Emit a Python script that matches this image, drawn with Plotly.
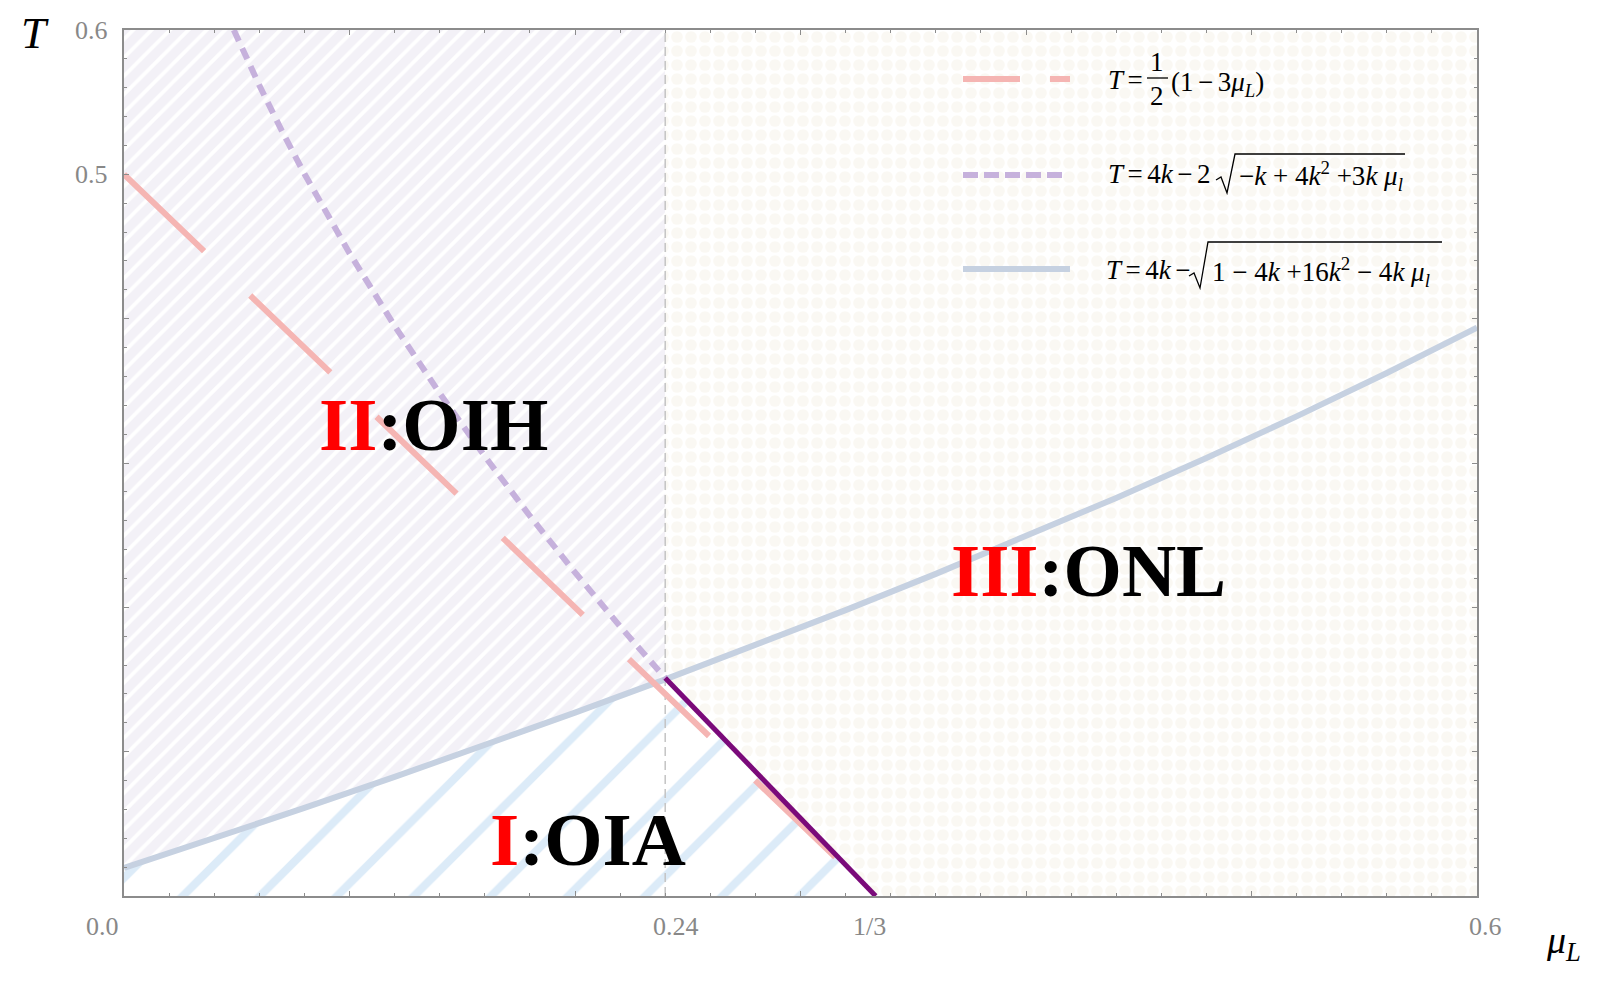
import plotly.graph_objects as go

# ---------------- data ----------------
# lower curve  T = 4k - sqrt(1-4k+16k^2-4k mu)
mu_blue = [0.00, 0.04, 0.08, 0.12, 0.16, 0.20, 0.24, 0.28, 0.32, 0.36,
           0.40, 0.44, 0.48, 0.52, 0.56, 0.60]
T_blue = [0.0194, 0.0400, 0.0610, 0.0825, 0.1045, 0.1270, 0.1501, 0.1737,
          0.1981, 0.2232, 0.2491, 0.2758, 0.3035, 0.3323, 0.3624, 0.3938]

# upper dashed curve  T = 4k - 2 sqrt(-k+4k^2+3k mu)
mu_purple = [0.0487, 0.054, 0.06, 0.07, 0.08, 0.10, 0.12, 0.14, 0.16,
             0.18, 0.20, 0.22, 0.24]
T_purple = [0.600, 0.5817, 0.5617, 0.5301, 0.5004, 0.4454, 0.3950, 0.3483,
            0.3046, 0.2633, 0.2242, 0.1868, 0.1510]

# straight line  T = (1 - 3 mu)/2
mu_red = [0.0, 1/3]
T_red = [0.5, 0.0]

# solid boundary I / III
mu_bound = [0.24, 1/3]
T_bound = [0.151, 0.0]

mu_split = 0.24          # vertical separator
x_range = [0.0, 0.6]
y_range = [0.0, 0.6]

x_tick_vals = [0.0, 0.24, 1/3, 0.6]
x_tick_text = ["0.0", "0.24", "1/3", "0.6"]
major_ticks = [0.0, 0.1, 0.2, 0.3, 0.4, 0.5, 0.6]
y_label_vals = [0.5, 0.6]
y_label_text = ["0.5", "0.6"]

# ---------------- styling ----------------
OFF = 8                      # page body margin
W, H = 1599 - 2 * OFF, 981 - 2 * OFF
L, R, T, B = 124 - OFF, 122 - OFF, 30 - OFF, 85 - OFF
# plot area in page pixels
PX0, PX1, PY0, PY1 = 124, 1477, 896, 30

def xp(px):
    return (px - PX0) / (PX1 - PX0)

def yp(py):
    return (PY0 - py) / (PY0 - PY1)

FRAME = "#8c8c8c"
SERIF = "Liberation Serif, Times New Roman, serif"
TICKFONT = dict(family=SERIF, size=26, color="#888888")
C_RED = "#f5b5b3"
C_PURD = "#c6b1dc"
C_BLUE = "#c6d1e1"
C_DARK = "#7a0a7a"
TS = "\u2006"   # thin math spaces
RS = "\u2005"

fig = go.Figure()

# region II  (left of separator, above lower curve)
iII = mu_blue.index(mu_split)
xII = [x_range[0], mu_split] + mu_blue[:iII + 1][::-1]
yII = [y_range[1], y_range[1]] + T_blue[:iII + 1][::-1]
fig.add_trace(go.Scatter(
    x=xII, y=yII, mode="lines", fill="toself", line=dict(width=0),
    fillcolor="white",
    fillpattern=dict(shape="/", fgcolor="#e7e3ef", bgcolor="white",
                     size=13, solidity=0.72),
    hoverinfo="skip", showlegend=False))

# region III
xIII = [mu_split, mu_split, x_range[1], x_range[1], mu_bound[1], mu_bound[0]]
yIII = [T_bound[0], y_range[1], y_range[1], y_range[0], y_range[0], T_bound[0]]
fig.add_trace(go.Scatter(
    x=xIII, y=yIII, mode="lines", fill="toself", line=dict(width=0),
    fillcolor="white",
    fillpattern=dict(shape=".", fgcolor="#f5f1e7", bgcolor="white",
                     size=14, solidity=0.55),
    hoverinfo="skip", showlegend=False))

# region I
xI = [x_range[0]] + mu_blue[:iII + 1] + [mu_bound[1]]
yI = [y_range[0]] + T_blue[:iII + 1] + [T_bound[1]]
fig.add_trace(go.Scatter(
    x=xI, y=yI, mode="lines", fill="toself", line=dict(width=0),
    fillcolor="white",
    fillpattern=dict(shape="/", fgcolor="#bad8f1", bgcolor="white",
                     size=54.5, solidity=0.15),
    hoverinfo="skip", showlegend=False))

# vertical dashed separator
fig.add_trace(go.Scatter(
    x=[mu_split, mu_split], y=y_range, mode="lines",
    line=dict(color="#c4c4c4", width=1.5, dash="9px,5px"),
    hoverinfo="skip", showlegend=False))

# curves
fig.add_trace(go.Scatter(x=mu_blue, y=T_blue, mode="lines",
                         line=dict(color=C_BLUE, width=6),
                         hoverinfo="skip", showlegend=False))
fig.add_trace(go.Scatter(x=mu_red, y=T_red, mode="lines",
                         line=dict(color=C_RED, width=6, dash="111px,64px"),
                         hoverinfo="skip", showlegend=False))
fig.add_trace(go.Scatter(x=mu_purple, y=T_purple, mode="lines",
                         line=dict(color=C_PURD, width=6, dash="12px,8px"),
                         hoverinfo="skip", showlegend=False))
fig.add_trace(go.Scatter(x=mu_bound, y=T_bound, mode="lines",
                         line=dict(color=C_DARK, width=5),
                         hoverinfo="skip", showlegend=False))

axis_common = dict(
    showline=True, linecolor=FRAME, linewidth=1.5, mirror="allticks",
    ticks="inside", ticklen=5, tickwidth=1.3, tickcolor=FRAME,
    showgrid=False, zeroline=False, showticklabels=False,
    tickmode="array", tickvals=major_ticks,
    minor=dict(ticks="inside", ticklen=3, tickwidth=1.1, tickcolor=FRAME,
               dtick=0.02, showgrid=False),
)

fig.update_xaxes(range=x_range, **axis_common)
fig.update_yaxes(range=y_range, **axis_common)

ann = []
# x tick labels
x_shift = [-22, 11, -6, 8]
for v, t, s in zip(x_tick_vals, x_tick_text, x_shift):
    ann.append(dict(x=v, y=yp(926), xref="x", yref="paper", text=t,
                    showarrow=False, xanchor="center", yanchor="middle",
                    xshift=s, font=TICKFONT))
# y tick labels
for v, t in zip(y_label_vals, y_label_text):
    ann.append(dict(x=xp(110), y=v, xref="paper", yref="y", text=t,
                    showarrow=False, xanchor="right", yanchor="middle",
                    font=TICKFONT))

# axis titles
ann.append(dict(x=xp(35), y=yp(33.5), xref="paper", yref="paper",
                text="<i>T</i>", showarrow=False, xanchor="center",
                yanchor="middle", font=dict(family=SERIF, size=45, color="black")))
ann.append(dict(x=xp(1563), y=yp(943), xref="paper", yref="paper",
                text="<i>μ<sub>L</sub></i>", showarrow=False, xanchor="center",
                yanchor="middle", font=dict(family=SERIF, size=38, color="black")))

# region labels
def region(label_red, rest, cx, cy):
    ann.append(dict(x=xp(cx), y=yp(cy), xref="paper", yref="paper",
                    text="<b><span style='color:#ff0000'>" + label_red +
                    "</span>" + rest + "</b>",
                    showarrow=False, xanchor="center", yanchor="middle",
                    font=dict(family=SERIF, size=75, color="black")))

region("II", ":OIH", 433, 424)
region("III", ":ONL", 1088, 570)
region("I", ":OIA", 588, 839)

# legend
LF = dict(family=SERIF, size=27, color="black")
shapes = []
leg_x0, leg_x1 = 963, 1070
shapes.append(dict(type="line", xref="paper", yref="paper",
                   x0=xp(leg_x0), x1=xp(leg_x1), y0=yp(79), y1=yp(79),
                   line=dict(color=C_RED, width=6, dash="57px,30px,20px,30px")))
shapes.append(dict(type="line", xref="paper", yref="paper",
                   x0=xp(leg_x0), x1=xp(1063), y0=yp(175), y1=yp(175),
                   line=dict(color=C_PURD, width=6, dash="15px,6px")))
shapes.append(dict(type="line", xref="paper", yref="paper",
                   x0=xp(leg_x0), x1=xp(leg_x1), y0=yp(269), y1=yp(269),
                   line=dict(color=C_BLUE, width=6)))

def text_at(px, py, txt, anchor="left", font=LF):
    ann.append(dict(x=xp(px), y=yp(py), xref="paper", yref="paper",
                    text=txt, showarrow=False, xanchor=anchor,
                    yanchor="middle", font=font))

def path_px(points):
    d = "M " + " L ".join("%.5f,%.5f" % (xp(a), yp(b)) for a, b in points)
    shapes.append(dict(type="path", xref="paper", yref="paper", path=d,
                       line=dict(color="black", width=1.3)))

# row 1:  T = 1/2 (1 - 3 mu_L)
text_at(1106, 80, "<i>T</i>" + TS + "=")
text_at(1157, 62, "1", anchor="center")
text_at(1157, 96, "2", anchor="center")
path_px([(1147, 78), (1168, 78)])
text_at(1169, 84, "(1" + TS + "−" + TS + "3<i>μ<sub>L</sub></i>)")

# row 2:  T = 4k - 2 sqrt(-k + 4k^2 + 3k mu_l)
text_at(1106, 174, "<i>T</i>" + TS + "=" + TS + "4<i>k</i>" + TS + "−" + TS + "2")
path_px([(1216, 180), (1221, 177), (1227, 193), (1235, 154), (1405, 154)])
text_at(1237, 176, "−<i>k</i>" + RS + "+" + RS + "4<i>k</i><sup>2</sup>" + RS +
        "+3<i>k</i>" + RS + "<i>μ<sub>l</sub></i>")

# row 3:  T = 4k - sqrt(1 - 4k + 16k^2 - 4k mu_l)
text_at(1104, 270, "<i>T</i>" + TS + "=" + TS + "4<i>k</i>" + TS + "−")
path_px([(1189, 276), (1194, 273), (1200, 288), (1208, 242), (1442, 242)])
text_at(1210, 272, "1" + RS + "−" + RS + "4<i>k</i>" + RS + "+16<i>k</i><sup>2</sup>" +
        RS + "−" + RS + "4<i>k</i>" + RS + "<i>μ<sub>l</sub></i>")

fig.update_layout(
    width=W, height=H, margin=dict(l=L, r=R, t=T, b=B),
    paper_bgcolor="white", plot_bgcolor="white",
    annotations=ann, shapes=shapes, showlegend=False,
)

fig.write_html("out.html")
